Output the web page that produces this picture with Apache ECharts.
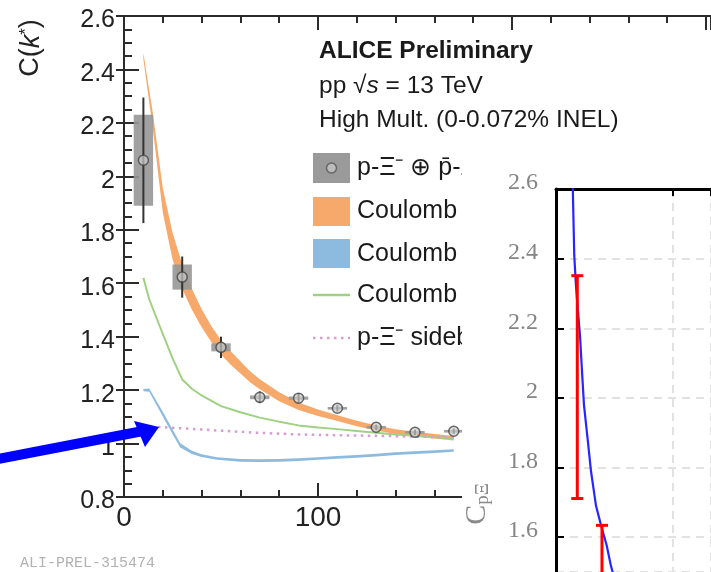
<!DOCTYPE html>
<html><head><meta charset="utf-8">
<script src="https://cdn.jsdelivr.net/npm/echarts@6/dist/echarts.min.js"></script>
<style>html,body{margin:0;padding:0;background:#fff}#c{width:711px;height:572px}</style>
</head><body><div id="c"></div>
<script>
// ---------- ALICE p-Xi correlation (main panel) ----------
const kStar   = [10, 30, 50, 70, 90, 110, 130, 150, 170];
const cData   = [2.06, 1.623, 1.36, 1.173, 1.17, 1.132, 1.061, 1.042, 1.046];
const statErr = [0.235, 0.077, 0.04, 0.022, 0.018, 0.012, 0.01, 0.01, 0.01];
const sysErr  = [0.17, 0.047, 0.015, 0.007, 0.006, 0.005, 0.005, 0.005, 0.005];
const kBinHalf = 5;

const orangeK   = [10, 15, 20, 25, 30, 35, 40, 45, 50, 55, 60, 65, 70, 80, 90, 100, 110, 120, 130, 140, 150, 160, 170];
const orangeC   = [2.45, 2.2, 1.91, 1.74, 1.625, 1.54, 1.47, 1.41, 1.36, 1.32, 1.285, 1.25, 1.222, 1.175, 1.14, 1.115, 1.095, 1.075, 1.058, 1.045, 1.035, 1.027, 1.02];
const orangeErr = [0.012, 0.03, 0.045, 0.05, 0.046, 0.039, 0.034, 0.03, 0.027, 0.025, 0.023, 0.021, 0.019, 0.017, 0.014, 0.012, 0.011, 0.01, 0.0095, 0.009, 0.009, 0.0085, 0.0085];

const blueK   = [10, 13, 20, 25, 29, 35, 40, 48, 60, 70, 80, 90, 100, 110, 120, 130, 140, 150, 160, 170];
const blueC   = [1.2, 1.2, 1.11, 1.045, 0.993, 0.967, 0.955, 0.944, 0.937, 0.936, 0.937, 0.94, 0.944, 0.948, 0.952, 0.957, 0.962, 0.966, 0.97, 0.974];
const blueErr = [0.004, 0.006, 0.009, 0.009, 0.008, 0.006, 0.005, 0.005, 0.005, 0.005, 0.005, 0.005, 0.005, 0.005, 0.005, 0.005, 0.005, 0.005, 0.005, 0.005];

const greenK = [10, 13, 20, 25, 30, 35, 40, 50, 60, 70, 80, 90, 100, 110, 120, 130, 140, 150, 160, 170];
const greenC = [1.62, 1.54, 1.41, 1.32, 1.24, 1.205, 1.18, 1.14, 1.117, 1.097, 1.082, 1.068, 1.06, 1.054, 1.047, 1.04, 1.034, 1.029, 1.024, 1.02];

const pinkK = [17.5, 30, 50, 70, 90, 110, 130, 150, 170];
const pinkC = [1.062, 1.057, 1.048, 1.04, 1.034, 1.031, 1.029, 1.026, 1.023];

const yTicksMain = {min: 0.8, max: 2.6, interval: 0.2};
const xTicksMain = {min: 0, max: 302.6, interval: 100};

// ---------- inset panel ----------
const insetK = [14.3, 15.6, 17.1, 20.5, 22.0, 23.9, 27.1, 29.9, 34.2, 38.5, 43.3, 46.8, 50];
const insetC = [2.61, 2.41, 2.32, 2.18, 2.09, 1.98, 1.88, 1.79, 1.69, 1.634, 1.577, 1.52, 1.48];
const redK  = [18.2, 39.3];
const redC  = [2.03, 1.47];
const redLo = [1.711, 1.30];
const redHi = [2.351, 1.634];
const yRangeInset = {min: 1.5, max: 2.6, splitNumber: 5};
const xTicksInset = {min: 0, max: 132.5, interval: 100};

const legendLabels = ['p-\u039E\u207B \u2295 p\u0304-\u039E\u0304\u207A', 'Coulomb + HAL QCD', 'Coulomb + ESC16', 'Coulomb', 'p-\u039E\u207B sideband'];

const SANS = 'Liberation Sans';
const SERIF = 'Liberation Serif';
const AX = '#2b2b2b';

function bandRender(ks, cs, es, fill) {
  return function (params, api) {
    if (params.dataIndex !== 0) return null;
    const up = ks.map((k, i) => api.coord([k, cs[i] + es[i]]));
    const lo = ks.map((k, i) => api.coord([k, cs[i] - es[i]])).reverse();
    return {type: 'polygon', shape: {points: up.concat(lo)}, style: {fill: fill}};
  };
}

const chart = echarts.init(document.getElementById('c'));
const option = {
  animation: false,
  backgroundColor: '#fff',
  grid: [
    {left: 124, top: 16, width: 587, height: 481, containLabel: false, outerBoundsMode: 'none'},
    {left: 556, top: 189, width: 155, height: 383, containLabel: false, outerBoundsMode: 'none'}
  ],
  xAxis: [
    {gridIndex: 0, type: 'value', min: xTicksMain.min, max: xTicksMain.max, interval: xTicksMain.interval, z: 1,
     axisLine: {show: true, onZero: false, lineStyle: {color: AX, width: 2}},
     axisTick: {show: true, inside: true, length: 14, lineStyle: {color: AX, width: 2}},
     minorTick: {show: true, splitNumber: 5, length: 7, lineStyle: {color: AX, width: 2}},
     axisLabel: {fontFamily: SANS, fontSize: 28, color: '#222', margin: 7, showMaxLabel: false},
     splitLine: {show: false}},
    {gridIndex: 0, type: 'value', position: 'top', min: xTicksMain.min, max: xTicksMain.max, interval: xTicksMain.interval, z: 1,
     axisLine: {show: true, onZero: false, lineStyle: {color: AX, width: 2}},
     axisTick: {show: true, inside: true, length: 14, lineStyle: {color: AX, width: 2}},
     minorTick: {show: true, splitNumber: 5, length: 7, lineStyle: {color: AX, width: 2}},
     axisLabel: {show: false}, splitLine: {show: false}},
    {gridIndex: 1, type: 'value', position: 'top', min: xTicksInset.min, max: xTicksInset.max, interval: xTicksInset.interval, z: 20,
     axisLine: {show: true, onZero: false, lineStyle: {color: '#000', width: 3}},
     axisTick: {show: true, inside: true, length: 7, lineStyle: {color: '#000', width: 2}},
     axisLabel: {show: false},
     splitLine: {show: true, lineStyle: {color: '#e2e2e2', width: 2, type: [8, 6]}}}
  ],
  yAxis: [
    {gridIndex: 0, type: 'value', min: yTicksMain.min, max: yTicksMain.max, interval: yTicksMain.interval, z: 1,
     axisLine: {show: true, onZero: false, lineStyle: {color: AX, width: 2}},
     axisTick: {show: true, inside: true, length: 15, lineStyle: {color: AX, width: 2}},
     minorTick: {show: true, splitNumber: 4, length: 8, lineStyle: {color: AX, width: 2}},
     axisLabel: {fontFamily: SANS, fontSize: 25, color: '#222', margin: 9, verticalAlign: 'top', lineHeight: 9},
     splitLine: {show: false}},
    {gridIndex: 0, type: 'value', position: 'right', min: yTicksMain.min, max: yTicksMain.max, interval: yTicksMain.interval, z: 1,
     axisLine: {show: false},
     axisTick: {show: true, inside: true, length: 8, lineStyle: {color: AX, width: 2}},
     axisLabel: {show: false}, splitLine: {show: false}},
    {gridIndex: 1, type: 'value', min: yRangeInset.min, max: yRangeInset.max, splitNumber: yRangeInset.splitNumber, z: 20,
     axisLine: {show: true, onZero: false, lineStyle: {color: '#000', width: 3}},
     axisTick: {show: true, inside: true, length: 8, lineStyle: {color: '#000', width: 2}},
     axisLabel: {fontFamily: SERIF, fontSize: 24, color: '#858585', margin: 18, verticalAlign: 'bottom', lineHeight: 12, showMinLabel: false},
     splitLine: {show: true, lineStyle: {color: '#e2e2e2', width: 2, type: [8, 6]}}}
  ],
  series: [
    {type: 'custom', name: 'band-orange', xAxisIndex: 0, yAxisIndex: 0, z: 2, silent: true,
     data: orangeK.map((k, i) => [k, orangeC[i]]),
     renderItem: bandRender(orangeK, orangeC, orangeErr, '#f6a96b')},
    {type: 'custom', name: 'band-blue', xAxisIndex: 0, yAxisIndex: 0, z: 2, silent: true,
     data: blueK.map((k, i) => [k, blueC[i]]),
     renderItem: bandRender(blueK, blueC, blueErr, '#8dbbdf')},
    {type: 'line', name: 'coulomb', xAxisIndex: 0, yAxisIndex: 0, z: 3, silent: true, showSymbol: false,
     data: greenK.map((k, i) => [k, greenC[i]]),
     lineStyle: {color: '#9fd183', width: 2}},
    {type: 'line', name: 'sideband', xAxisIndex: 0, yAxisIndex: 0, z: 3, silent: true, showSymbol: false,
     data: pinkK.map((k, i) => [k, pinkC[i]]),
     lineStyle: {color: '#d49ed4', width: 2.5, type: [2.5, 4.5]}},
    {type: 'custom', name: 'sys', xAxisIndex: 0, yAxisIndex: 0, z: 4, silent: true,
     data: kStar.map((k, i) => [k, cData[i], sysErr[i]]),
     renderItem: function (params, api) {
       const k = api.value(0), c = api.value(1), e = api.value(2);
       const a = api.coord([k - kBinHalf, c + e]);
       const b = api.coord([k + kBinHalf, c - e]);
       const h = Math.max(b[1] - a[1], 2.5);
       return {type: 'rect', shape: {x: a[0], y: (a[1] + b[1]) / 2 - h / 2, width: b[0] - a[0], height: h},
               style: {fill: '#979797', opacity: 0.9}};
     }},
    {type: 'custom', name: 'stat', xAxisIndex: 0, yAxisIndex: 0, z: 5, silent: true,
     data: kStar.map((k, i) => [k, cData[i], statErr[i]]),
     renderItem: function (params, api) {
       const k = api.value(0), c = api.value(1), e = api.value(2);
       const a = api.coord([k, c + e]);
       const b = api.coord([k, c - e]);
       return {type: 'line', shape: {x1: a[0], y1: a[1], x2: b[0], y2: b[1]},
               style: {stroke: '#333', lineWidth: 2}};
     }},
    {type: 'scatter', name: 'data', xAxisIndex: 0, yAxisIndex: 0, z: 6, silent: true,
     symbol: 'circle', symbolSize: 10,
     data: kStar.map((k, i) => [k, cData[i]]),
     itemStyle: {color: 'rgba(205,205,205,0.85)', borderColor: '#444', borderWidth: 1.5}},
    {type: 'line', name: 'inset-curve', xAxisIndex: 2, yAxisIndex: 2, z: 25, silent: true, showSymbol: false,
     data: insetK.map((k, i) => [k, insetC[i]]),
     lineStyle: {color: '#2626ff', width: 2.2}},
    {type: 'custom', name: 'inset-err', xAxisIndex: 2, yAxisIndex: 2, z: 26, silent: true,
     data: redK.map((k, i) => [k, redC[i], redLo[i], redHi[i]]),
     renderItem: function (params, api) {
       const k = api.value(0);
       const t = api.coord([k, api.value(3)]);
       const b = api.coord([k, api.value(2)]);
       const st = {stroke: '#ff0000', lineWidth: 3};
       return {type: 'group', children: [
         {type: 'line', shape: {x1: t[0], y1: t[1], x2: b[0], y2: b[1]}, style: st},
         {type: 'line', shape: {x1: t[0] - 6, y1: t[1], x2: t[0] + 6, y2: t[1]}, style: st},
         {type: 'line', shape: {x1: b[0] - 6, y1: b[1], x2: b[0] + 6, y2: b[1]}, style: st}
       ]};
     }}
  ],
  graphic: [
    {type: 'text', x: 31, y: 48, rotation: Math.PI / 2, z: 9, silent: true,
     style: {text: '{n|C(}{i|k}{s|*}{n|)}', align: 'center', verticalAlign: 'middle',
       rich: {n: {fontFamily: SANS, fontSize: 27, fill: '#222'},
              i: {fontFamily: SANS, fontSize: 27, fontStyle: 'italic', fill: '#222'},
              s: {fontFamily: SANS, fontSize: 17, fill: '#222', verticalAlign: 'top', padding: [0, 0, 10, 0]}}}},
    {type: 'text', x: 319, y: 51, z: 9, silent: true,
     style: {text: 'ALICE Preliminary', fontFamily: SANS, fontSize: 24.5, fontWeight: 'bold', fill: '#1a1a1a', verticalAlign: 'middle'}},
    {type: 'text', x: 319, y: 86, z: 9, silent: true,
     style: {text: '{n|pp \u221A}{i|s}{n| = 13 TeV}', verticalAlign: 'middle',
       rich: {n: {fontFamily: SANS, fontSize: 24.5, fill: '#1a1a1a'}, i: {fontFamily: SANS, fontSize: 24.5, fontStyle: 'italic', fill: '#1a1a1a'}}}},
    {type: 'text', x: 319, y: 120, z: 9, silent: true,
     style: {text: 'High Mult. (0-0.072% INEL)', fontFamily: SANS, fontSize: 24.5, fill: '#1a1a1a', verticalAlign: 'middle'}},
    {type: 'rect', z: 8, silent: true, shape: {x: 313, y: 153, width: 37, height: 30}, style: {fill: '#9a9a9a'}},
    {type: 'circle', z: 8, silent: true, shape: {cx: 331.5, cy: 168, r: 5}, style: {fill: '#bbbbbb', stroke: '#666', lineWidth: 1.5}},
    {type: 'rect', z: 8, silent: true, shape: {x: 313, y: 197, width: 37, height: 29}, style: {fill: '#f6a96b'}},
    {type: 'rect', z: 8, silent: true, shape: {x: 313, y: 239, width: 37, height: 29}, style: {fill: '#8dbbdf'}},
    {type: 'line', z: 8, silent: true, shape: {x1: 313, y1: 295, x2: 350, y2: 295}, style: {stroke: '#9fd183', lineWidth: 2.5}},
    {type: 'line', z: 8, silent: true, shape: {x1: 313, y1: 338, x2: 350, y2: 338}, style: {stroke: '#d49ed4', lineWidth: 2.5, lineDash: [2.5, 4.5]}},
    ...legendLabels.map((t, i) => ({type: 'text', x: 357, y: [168, 211, 254, 295, 338][i], z: 8, silent: true,
      style: {text: t, fontFamily: SANS, fontSize: 25, fill: '#1a1a1a', verticalAlign: 'middle'}})),
    {type: 'rect', z: 10, silent: true, shape: {x: 462, y: 150, width: 260, height: 430}, style: {fill: '#ffffff'}},
    {type: 'text', x: 477, y: 504, rotation: Math.PI / 2, z: 21, silent: true,
     style: {text: '{c|C}{s|p\u039E}', align: 'center', verticalAlign: 'middle',
       rich: {c: {fontFamily: SERIF, fontSize: 30, fill: '#8a8a8a'}, s: {fontFamily: SERIF, fontSize: 19, fill: '#8a8a8a', padding: [12, 0, 0, 0]}}}},
    {type: 'text', x: 20, y: 563, z: 9, silent: true,
     style: {text: 'ALI-PREL-315474', fontFamily: 'Liberation Mono', fontSize: 15, fill: '#b2b2b2', verticalAlign: 'middle'}},
    {type: 'line', z: 30, silent: true, shape: {x1: -5, y1: 459.5, x2: 143, y2: 431}, style: {stroke: '#0000ff', lineWidth: 10}},
    {type: 'polygon', z: 30, silent: true, shape: {points: [[159, 427], [134, 421], [145, 447]]}, style: {fill: '#0000ff'}}
  ]
};
chart.setOption(option);
</script></body></html>
